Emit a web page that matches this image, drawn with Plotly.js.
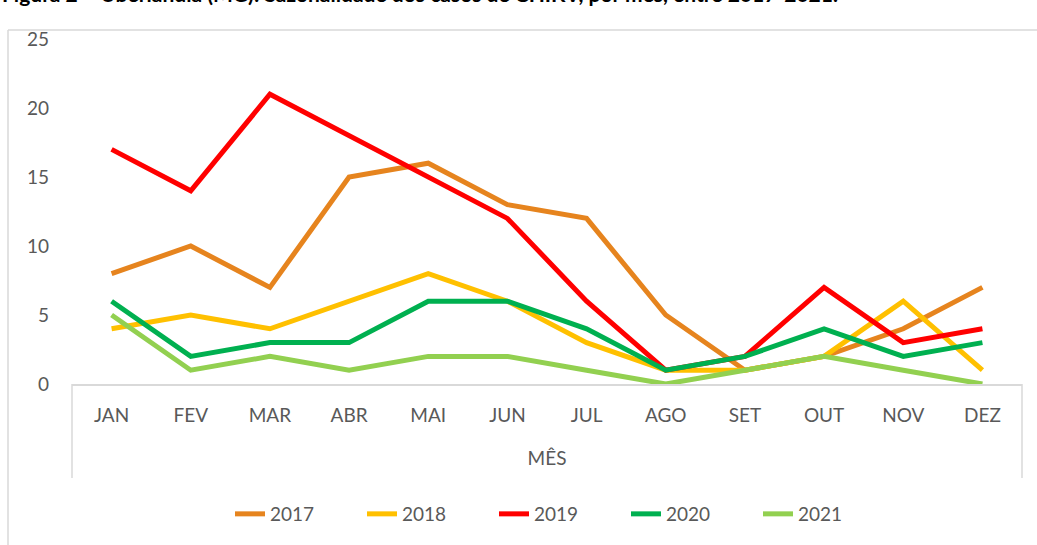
<!DOCTYPE html>
<html><head><meta charset="utf-8">
<script src="https://cdn.plot.ly/plotly-3.0.1.min.js"></script>
<style>html,body{margin:0;padding:0;background:#fff;}#chart{width:1037px;height:545px;}</style>
</head><body><div id="chart"></div>
<script>
const months = ["JAN","FEV","MAR","ABR","MAI","JUN","JUL","AGO","SET","OUT","NOV","DEZ"];
const years = ["2017","2018","2019","2020","2021"];
const v2017 = [8,10,7,15,16,13,12,5,1,2,4,7];
const v2018 = [4,5,4,6,8,6,3,1,1,2,6,1];
const v2019 = [17,14,21,18,15,12,6,1,2,7,3,4];
const v2020 = [6,2,3,3,6,6,4,1,2,4,2,3];
const v2021 = [5,1,2,1,2,2,1,0,1,2,1,0];
const colors = ["#E6841E","#FFC000","#FF0000","#00B050","#92D050"];
const series = [v2017,v2018,v2019,v2020,v2021];

const W=1037,H=545,L=72,R=15,T=39,B=161;
const pw=W-L-R, ph=H-T-B;
const px=x=>(x-L)/pw, py=y=>(H-B-y)/ph;

const traces = series.map((s,i)=>({
  type:"scatter", mode:"lines", name:years[i], x:months, y:s,
  line:{color:colors[i], width:5, shape:"linear"}
}));

const font = "Lato, 'Open Sans', sans-serif";
const layout = {
  width:W, height:H, margin:{l:L,r:R,t:T,b:B, autoexpand:false},
  paper_bgcolor:"#fff", plot_bgcolor:"#fff",
  showlegend:true,
  legend:{orientation:"h", x:px(230), xanchor:"left", y:py(514), yanchor:"middle",
    font:{family:font, size:19, color:"#595959"}, entrywidth:87, entrywidthmode:"pixels",
    traceorder:"normal"},
  xaxis:{type:"category", range:[-0.5,11.5], showgrid:false, zeroline:false,
    showline:true, linecolor:"#d9d9d9", linewidth:1.5,
    tickfont:{family:font, size:19, color:"#595959"}, ticks:"", ticklabelstandoff:14,
    title:{text:"MÊS", font:{family:font, size:19, color:"#595959"}, standoff:26}},
  yaxis:{range:[0,25], dtick:5, showgrid:false, zeroline:false, showline:false,
    tickfont:{family:font, size:19, color:"#595959"}, ticks:"", ticklabelstandoff:22},
  shapes:[
    {type:"line", xref:"paper", yref:"paper", x0:0, x1:0, y0:0, y1:py(478), line:{color:"#d9d9d9", width:1.5}},
    {type:"line", xref:"paper", yref:"paper", x0:1, x1:1, y0:0, y1:py(478), line:{color:"#d9d9d9", width:1.5}},
    {type:"line", xref:"paper", yref:"paper", x0:px(8), x1:px(8), y0:py(30), y1:py(546), line:{color:"#d9d9d9", width:1.5}},
    {type:"line", xref:"paper", yref:"paper", x0:px(8), x1:px(1040), y0:py(30), y1:py(30), line:{color:"#d9d9d9", width:1.5}}
  ],
  annotations:[
    {xref:"paper", yref:"paper", x:px(0), y:py(8), xanchor:"left", yanchor:"bottom", showarrow:false,
     text:"<b>Figura 2 – Uberlândia (MG): Sazonalidade dos casos de CHIKV, por mês, entre 2017-2021.</b>",
     font:{family:"'Liberation Sans Narrow', Lato, sans-serif", size:21, color:"#000"}}
  ]
};
Plotly.newPlot("chart", traces, layout, {displayModeBar:false, staticPlot:true});
</script></body></html>
